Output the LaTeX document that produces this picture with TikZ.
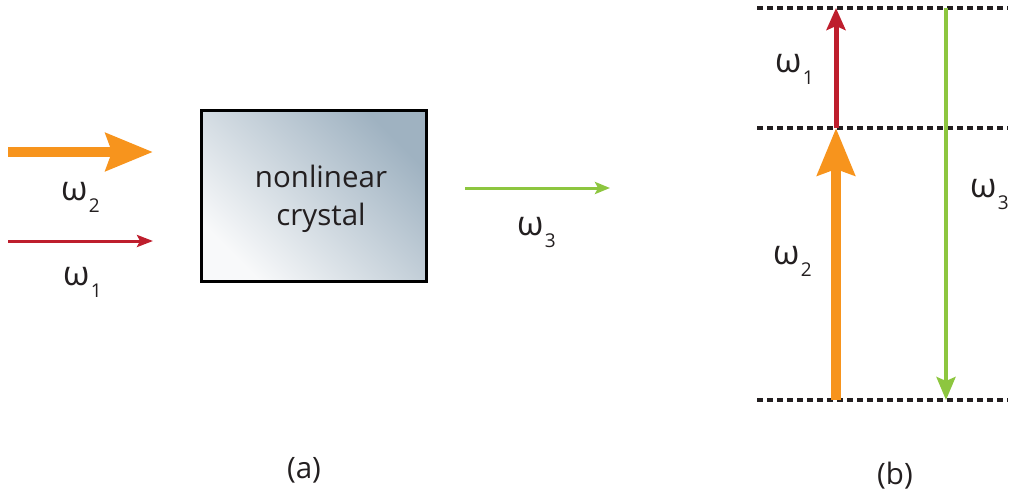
\documentclass[tikz,border=0pt]{standalone}
\usepackage{fontspec}
\setmainfont{Open Sans}
\usetikzlibrary{arrows.meta}
\definecolor{orng}{HTML}{F7941D}
\definecolor{rd}{HTML}{BE1E2D}
\definecolor{grn}{HTML}{8DC63F}
\definecolor{txt}{HTML}{231F20}
\definecolor{boxtop}{HTML}{9FB2C1}
\definecolor{boxbot}{HTML}{F8F9FA}
\newcommand{\wsub}[1]{ω\kern1.5pt\raisebox{-12pt}{\fontsize{19}{19}\selectfont #1}}
\tikzset{
  lbl/.style={anchor=base west, inner sep=0pt, text=txt, font=\fontsize{34}{38}\selectfont},
  lvl/.style={line width=3.2pt, dash pattern=on 6pt off 4pt, txt},
  thickarr/.style={orng, line width=10pt, -{Stealth[length=47pt, width=37pt, inset=6pt]}},
  thinred/.style={rd, line width=3pt, -{Stealth[length=16pt, width=12pt, inset=3pt]}},
  thingrn/.style={grn, line width=3pt, -{Stealth[length=15pt, width=12pt, inset=3pt]}},
  vred/.style={rd, line width=5pt, -{Stealth[length=22pt, width=19pt, inset=4pt]}},
  vgrn/.style={grn, line width=4pt, -{Stealth[length=23pt, width=19pt, inset=4pt]}},
  bodytext/.style={anchor=base, inner sep=0pt, text=txt, font=\fontsize{29.5}{34}\selectfont},
}
\begin{document}
\begin{tikzpicture}[x=1pt, y=-1pt]
\useasboundingbox (0,0) rectangle (1011,500);
% (a)
\coordinate (o1) at (8,152);
\coordinate (o2) at (153,152);
\coordinate (r1) at (8,241);
\coordinate (r2) at (153,241);
\coordinate (g1) at (465,188);
\coordinate (g2) at (610,188);
\draw[thickarr] (o1) -- (o2);
\draw[thinred] (r1) -- (r2);
\draw[thingrn] (g1) -- (g2);
\node[lbl] (w2a) at (61,200) {\wsub{2}};
\node[lbl] (w1a) at (63,285) {\wsub{1}};
\node[lbl] (w3a) at (517,235) {\wsub{3}};
\shade[top color=boxtop, bottom color=boxbot, shading angle=-45] (201,111) rectangle (426,281);
\node[draw=black, line width=3pt, minimum width=225pt, minimum height=170pt, inner sep=0pt] (crystal) at (313.5,196) {};
\node[bodytext] (t1) at (321,187) {nonlinear};
\node[bodytext] (t2) at (321,225) {crystal};
\node[bodytext] (capa) at (304,478) {(a)};
% (b)
\coordinate (L0a) at (757,400); \coordinate (L0b) at (1008,400);
\coordinate (L1a) at (757,128); \coordinate (L1b) at (1008,128);
\coordinate (L2a) at (757,8); \coordinate (L2b) at (1008,8);
\draw[lvl] (L0a) -- (L0b);
\draw[lvl] (L1a) -- (L1b);
\draw[lvl] (L2a) -- (L2b);
\coordinate (p0) at (836,400);
\coordinate (p1) at (836,128);
\coordinate (p2) at (836,8);
\coordinate (q2) at (946,8);
\coordinate (q0) at (946,400);
\draw[thickarr] (p0) -- (p1);
\draw[vred] (p1) -- (p2);
\draw[vgrn] (q2) -- (q0);
\node[lbl] (w1b) at (775,73) {\wsub{1}};
\node[lbl] (w2b) at (773,264) {\wsub{2}};
\node[lbl] (w3b) at (970,197) {\wsub{3}};
\node[bodytext] (capb) at (895,484) {(b)};
\end{tikzpicture}
\end{document}
